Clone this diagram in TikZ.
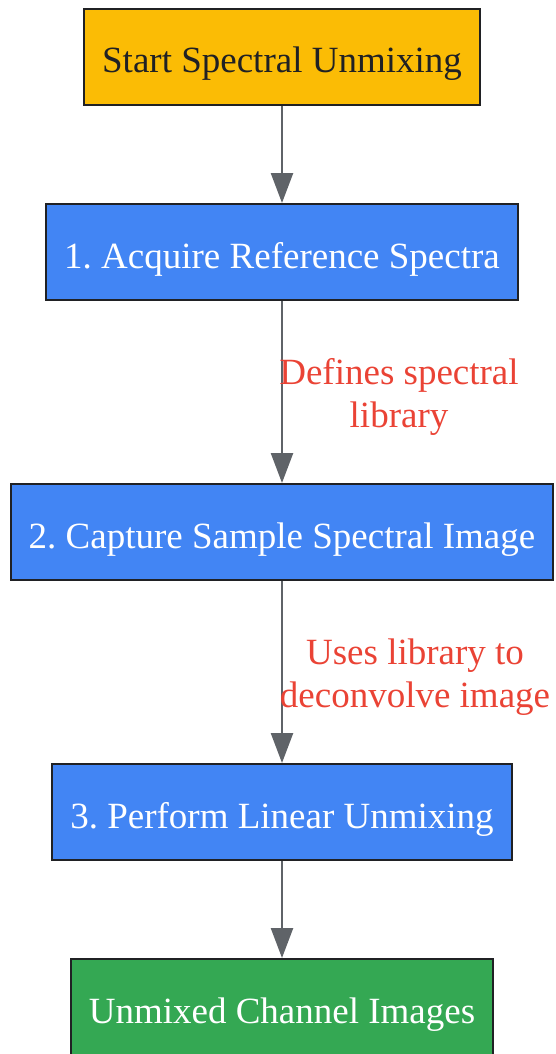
\documentclass[tikz,border=0pt]{standalone}
\usepackage{fontspec}
\setmainfont{Liberation Serif}
\usetikzlibrary{arrows.meta,positioning}
\definecolor{startyellow}{HTML}{FBBC05}
\definecolor{stepblue}{HTML}{4285F4}
\definecolor{doneGreen}{HTML}{34A853}
\definecolor{noteRed}{HTML}{EA4335}
\definecolor{edgeGray}{HTML}{5F6368}
\definecolor{boxLine}{HTML}{202124}
\tikzset{>={Triangle[width=22pt,length=30pt]}}
\frenchspacing

\begin{document}
\begin{tikzpicture}[x=1pt,y=1pt,
    box/.style={draw=boxLine,line width=2pt,minimum height=96pt,inner xsep=18pt,
      text height=32pt,text depth=0pt,font=\fontsize{37}{43}\selectfont},
    stepbox/.style={box,fill=stepblue,text=white},
    note/.style={text=noteRed,align=center,yshift=-5pt,font=\fontsize{37}{43}\selectfont},
    flow/.style={->,draw=edgeGray,fill=edgeGray,line width=2.5pt}]
    \useasboundingbox (0,0) rectangle (555,-1054);
    \node[box,fill=startyellow,text=boxLine] (start) at (282,-57) {Start Spectral Unmixing};
    \node[stepbox,below=97pt of start] (acquire) {1. Acquire Reference Spectra};
    \node[stepbox,below=182pt of acquire] (capture) {2. Capture Sample Spectral Image};
    \node[stepbox,below=182pt of capture] (unmix) {3. Perform Linear Unmixing};
    \node[box,fill=doneGreen,text=white,below=97pt of unmix] (result) {Unmixed Channel Images};
    \draw[flow] (start) -- (acquire);
    \draw[flow] (acquire) -- node[note,xshift=117pt] {Defines spectral\\library} (capture);
    \draw[flow] (capture) -- node[note,xshift=133pt] {Uses library to\\deconvolve image} (unmix);
    \draw[flow] (unmix) -- (result);
\end{tikzpicture}
\end{document}
